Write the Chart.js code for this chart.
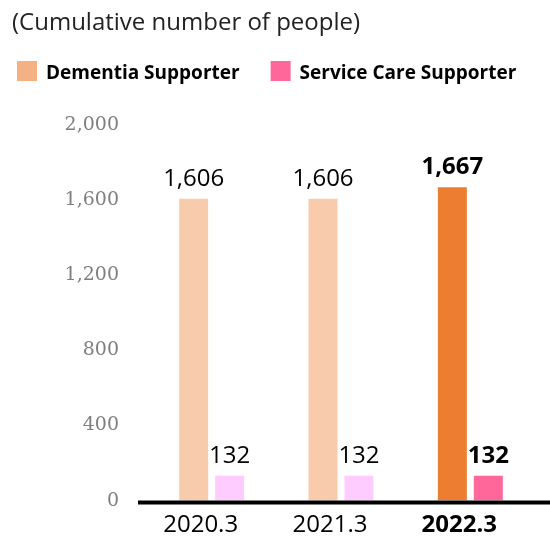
<!DOCTYPE html>
<html>
<head>
<meta charset="utf-8">
<script src="https://cdn.jsdelivr.net/npm/chart.js@4.4.1/dist/chart.umd.min.js"></script>
<style>
  html, body { margin: 0; padding: 0; background: #fff; }
</style>
</head>
<body>
<canvas id="chart" width="550" height="540"></canvas>
<script>
// data
const years = ['2020.3', '2021.3', '2022.3'];
const seriesNames = ['Dementia Supporter', 'Service Care Supporter'];
const dementia = [1606, 1606, 1667];
const serviceCare = [132, 132, 132];
const yTicks = [0, 400, 800, 1200, 1600, 2000];
const highlight = 2; // the latest year is emphasised

// colours
const dementiaColors = ['#f8cbad', '#f8cbad', '#ed7d31'];
const serviceColors = ['#ffccff', '#ffccff', '#ff6699'];
const legendColors = ['#f4b183', '#ff6699'];

const FONT = '"Open Sans", "Noto Sans", sans-serif';

// value labels above each bar
const barLabels = {
    id: 'barLabels',
    afterDatasetsDraw(chart) {
        const ctx = chart.ctx;
        ctx.save();
        ctx.textAlign = 'center';
        ctx.textBaseline = 'alphabetic';
        ctx.fillStyle = '#000';
        chart.data.datasets.forEach((ds, di) => {
            chart.getDatasetMeta(di).data.forEach((bar, i) => {
                ctx.font = (i === highlight ? 'bold ' : '') + '24px ' + FONT;
                ctx.fillText(ds.data[i].toLocaleString('en-US'), bar.x, bar.y - 13);
            });
        });
        ctx.restore();
    }
};

// thick base line, running past the plot to the right edge
const baseLine = {
    id: 'baseLine',
    afterDatasetsDraw(chart) {
        const { ctx, chartArea } = chart;
        const y = chart.scales.y.getPixelForValue(0) + 2;
        ctx.save();
        ctx.strokeStyle = '#000';
        ctx.lineWidth = 4;
        ctx.beginPath();
        ctx.moveTo(chartArea.left - 9, y);
        ctx.lineTo(chart.width, y);
        ctx.stroke();
        ctx.restore();
    }
};

// legend row under the title
const legendRow = {
    id: 'legendRow',
    afterDraw(chart) {
        const ctx = chart.ctx;
        ctx.save();
        ctx.font = 'bold 19px ' + FONT;
        ctx.textBaseline = 'alphabetic';
        ctx.textAlign = 'left';
        let x = 17;
        seriesNames.forEach((name, i) => {
            ctx.fillStyle = legendColors[i];
            ctx.fillRect(x, 61, 20, 20);
            ctx.fillStyle = '#000';
            ctx.fillText(name, x + 29, 79);
            x += 29 + ctx.measureText(name).width + 31;
        });
        ctx.restore();
    }
};

new Chart(document.getElementById('chart'), {
    type: 'bar',
    data: {
        labels: years,
        datasets: [
            {
                label: seriesNames[0],
                data: dementia,
                backgroundColor: dementiaColors,
                categoryPercentage: 0.556,
                barPercentage: 0.806
            },
            {
                label: seriesNames[1],
                data: serviceCare,
                backgroundColor: serviceColors,
                categoryPercentage: 0.556,
                barPercentage: 0.806
            }
        ]
    },
    options: {
        responsive: false,
        animation: false,
        layout: { padding: { left: 12, right: 15, top: 0, bottom: 0 } },
        plugins: {
            legend: { display: false },
            tooltip: { enabled: false },
            title: {
                display: true,
                text: '(Cumulative number of people)',
                align: 'start',
                color: '#222',
                font: { family: FONT, size: 24, weight: 'normal' },
                padding: { top: 9, bottom: 87 }
            }
        },
        scales: {
            x: {
                grid: { display: false, drawTicks: false },
                border: { display: false },
                afterFit: (s) => { s.height = 38; },
                ticks: {
                    color: '#000',
                    padding: 10,
                    labelOffset: -11,
                    font: (c) => ({ family: FONT, size: 24, weight: c.index === highlight ? 'bold' : 'normal' })
                }
            },
            y: {
                min: 0,
                max: 2000,
                grid: { display: false, drawTicks: false },
                border: { display: false },
                afterBuildTicks: (s) => { s.ticks = yTicks.map(v => ({ value: v })); },
                afterFit: (s) => { s.width = 135; },
                ticks: {
                    color: '#7f7f7f',
                    padding: 28,
                    font: { family: '"DejaVu Serif", serif', size: 19 },
                    callback: (v) => v.toLocaleString('en-US')
                }
            }
        }
    },
    plugins: [baseLine, barLabels, legendRow]
});
</script>
</body>
</html>
